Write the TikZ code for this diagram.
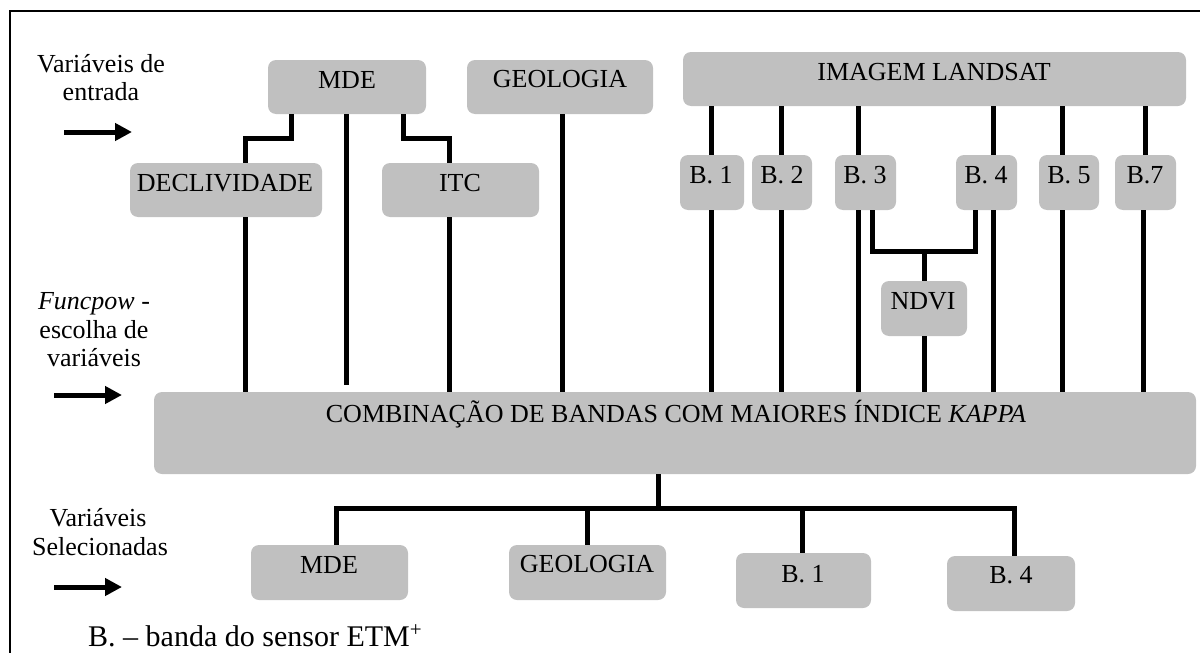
\documentclass[tikz,border=0pt]{standalone}
\usepackage{fontspec}
\setmainfont{Liberation Serif}
\usetikzlibrary{calc,arrows.meta}
\definecolor{boxgray}{RGB}{192,192,192}
\tikzset{
  box/.style={fill=boxgray, draw=none, rounded corners=8pt, inner sep=0pt, anchor=center},
  txt/.style={font=\fontsize{26}{30}\selectfont, inner sep=0pt, anchor=base},
  conn/.style={line width=5pt, line join=miter},
  bigarrow/.style={line width=5pt, -{Triangle[length=17pt,width=17pt]}},
  frameline/.style={line width=1.6pt}
}
\begin{document}
\begin{tikzpicture}[x=1pt,y=-1pt]
\useasboundingbox (0,0) rectangle (1200,653);
% frame
\coordinate (fTR) at (1200,11);
\coordinate (fTL) at (10,11);
\coordinate (fBL) at (10,653);
\draw[frameline] (fTR) -- (fTL) -- (fBL);

% boxes
\node[box, minimum width=158pt, minimum height=54pt] (mde) at (347,87) {};
\node[box, minimum width=186pt, minimum height=54pt] (geo) at (560,87) {};
\node[box, minimum width=503pt, minimum height=54pt] (landsat) at (934.5,79) {};
\node[box, minimum width=192pt, minimum height=54pt] (decl) at (226,190) {};
\node[box, minimum width=157pt, minimum height=54pt] (itc) at (460.5,190) {};
\node[box, minimum width=64pt, minimum height=55pt] (b1) at (712,182.5) {};
\node[box, minimum width=60pt, minimum height=55pt] (b2) at (782,182.5) {};
\node[box, minimum width=61pt, minimum height=55pt] (b3) at (865.5,182.5) {};
\node[box, minimum width=61pt, minimum height=55pt] (b4) at (986.5,182.5) {};
\node[box, minimum width=60pt, minimum height=55pt] (b5) at (1069,182.5) {};
\node[box, minimum width=61pt, minimum height=55pt] (b7) at (1145.5,182.5) {};
\node[box, minimum width=86pt, minimum height=55pt] (ndvi) at (924,308.5) {};
\node[box, minimum width=1042pt, minimum height=82pt] (comb) at (675,433) {};
\node[box, minimum width=157pt, minimum height=55pt] (mde2) at (329.5,572.5) {};
\node[box, minimum width=157pt, minimum height=55pt] (geo2) at (587.5,572.5) {};
\node[box, minimum width=135pt, minimum height=55pt] (b1b) at (803.5,580.5) {};
\node[box, minimum width=128pt, minimum height=55pt] (b4b) at (1011,583.5) {};

% box texts
\node[txt] (mdeT) at (347,88) {MDE};
\node[txt] (geoT) at (560,87) {GEOLOGIA};
\node[txt] (landT) at (934,80) {IMAGEM LANDSAT};
\node[txt] (declT) at (225,191) {DECLIVIDADE};
\node[txt] (itcT) at (460,191) {ITC};
\node[txt] (b1T) at (711,183) {B. 1};
\node[txt] (b2T) at (782,183) {B. 2};
\node[txt] (b3T) at (865,183) {B. 3};
\node[txt] (b4T) at (986,183) {B. 4};
\node[txt] (b5T) at (1069,183) {B. 5};
\node[txt] (b7T) at (1145,183) {B.7};
\node[txt] (ndviT) at (923,309) {NDVI};
\node[txt] (combT) at (676,422) {COMBINAÇÃO DE BANDAS COM MAIORES ÍNDICE \textit{KAPPA}};
\node[txt] (mde2T) at (329,573) {MDE};
\node[txt] (geo2T) at (587,572) {GEOLOGIA};
\node[txt] (b1bT) at (803,582) {B. 1};
\node[txt] (b4bT) at (1011,583) {B. 4};

% left labels
\node[txt] (v1a) at (101,72) {Variáveis de};
\node[txt] (v1b) at (101,100) {entrada};
\node[txt] (f1) at (94,309) {\textit{Funcpow} -};
\node[txt] (f2) at (94,338) {escolha de};
\node[txt] (f3) at (94,366) {variáveis};
\node[txt] (s1) at (98,526) {Variáveis};
\node[txt] (s2) at (100,555) {Selecionadas};

% arrows
\coordinate (a1s) at (64,132); \coordinate (a1e) at (132,132);
\coordinate (a2s) at (54,395); \coordinate (a2e) at (122,395);
\coordinate (a3s) at (54,587); \coordinate (a3e) at (122,587);
\draw[bigarrow] (a1s) -- (a1e);
\draw[bigarrow] (a2s) -- (a2e);
\draw[bigarrow] (a3s) -- (a3e);

% footnote
\node[font=\fontsize{30}{34}\selectfont, inner sep=0pt, anchor=base west] (foot) at (88,646) {B. – banda do sensor ETM\textsuperscript{+}};

% connectors: top
\draw[conn] ($(mde.south)+(-56,0)$) -- ++(0,24) -| ($(decl.north)+(19,0)$);
\draw[conn] ($(mde.south)+(-1,0)$) -- ($(comb.north -| mde.south)+(-1,-7)$);
\draw[conn] ($(mde.south)+(56,0)$) -- ++(0,24) -| ($(itc.north)+(-11.5,0)$);
\draw[conn] ($(decl.south)+(19,0)$) -- ($(comb.north -| decl.south)+(19,0)$);
\draw[conn] ($(itc.south)+(-11.5,0)$) -- ($(comb.north -| itc.south)+(-11.5,0)$);
\draw[conn] ($(geo.south)+(2,0)$) -- ($(comb.north -| geo.south)+(2,0)$);

\foreach \b/\dx in {b1/-1, b2/-1, b3/-7.5, b4/6.5, b5/-7, b7/0}{
  \draw[conn] ($(landsat.south -| \b.north)+(\dx,0)$) -- ($(\b.north)+(\dx,0)$);
}
\foreach \b/\dx in {b1/-1, b2/-1, b3/-7.5, b4/6.5, b5/-7, b7/-2}{
  \draw[conn] ($(\b.south)+(\dx,0)$) -- ($(comb.north -| \b.south)+(\dx,0)$);
}
% NDVI
\coordinate (jn) at ($(b3.south)+(6.5,41)$);
\draw[conn] ($(b3.south)+(6.5,0)$) -- (jn) -| ($(b4.south)+(-11.5,0)$);
\draw[conn] (ndvi.north) -- (ndvi.north |- jn);
\draw[conn] (ndvi.south) -- (comb.north -| ndvi.south);

% bottom
\coordinate (bj) at ($(comb.south)+(-17,34)$);
\draw[conn] ($(comb.south)+(-17,0)$) -- (bj);
\draw[conn] ($(mde2.north)+(6.5,0)$) |- (bj) -| ($(b4b.north)+(3,0)$);
\draw[conn] (geo2.north) -- (geo2.north |- bj);
\draw[conn] ($(b1b.north)+(-1.5,0)$) -- ($(b1b.north |- bj)+(-1.5,0)$);
\end{tikzpicture}
\end{document}
